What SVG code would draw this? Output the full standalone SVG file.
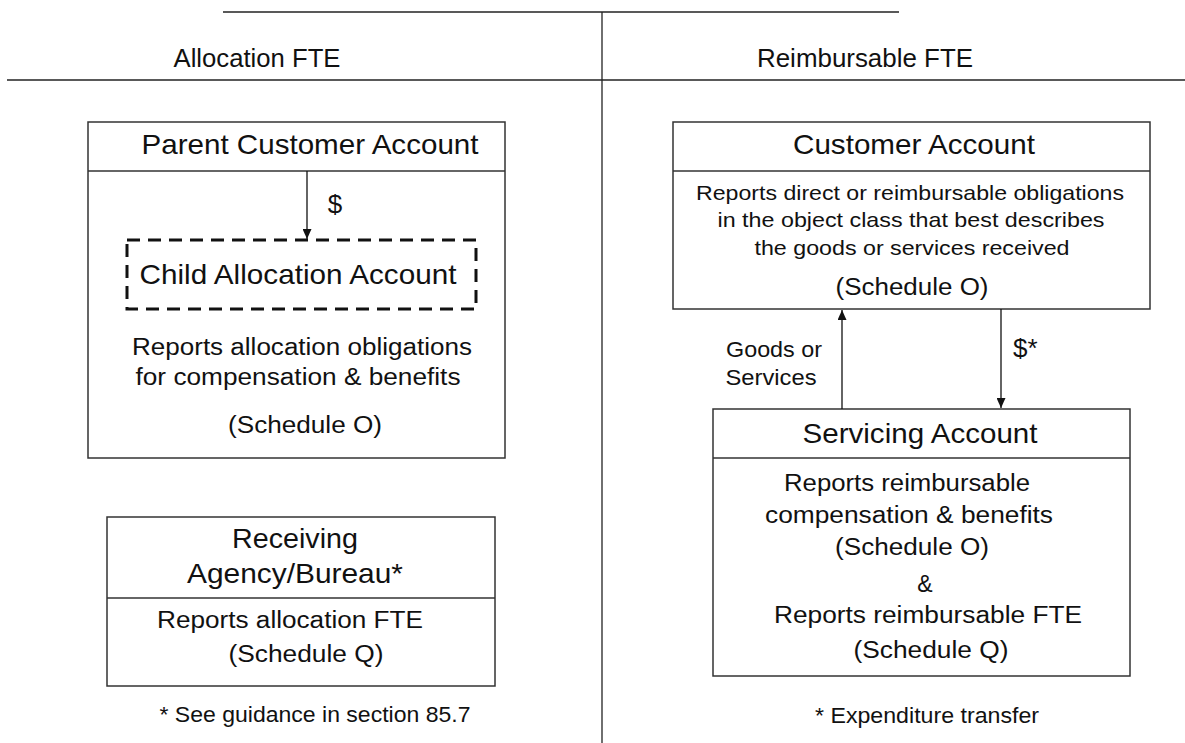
<svg xmlns="http://www.w3.org/2000/svg" width="1185" height="743" viewBox="0 0 1185 743">
<style>
text{font-family:"Liberation Sans",Arial,sans-serif;fill:#111;text-anchor:middle}
.t{font-size:26px}
.h{font-size:28px}
.b{font-size:23px}
.s{font-size:21px}
.f{font-size:22px}
.box{fill:#fff;stroke:#333;stroke-width:1.5}
.div{stroke:#333;stroke-width:1.5}
.rule{stroke:#222;stroke-width:1.3}
.conn{stroke:#111;stroke-width:1.3;fill:none;marker-end:url(#ah)}
.dash{fill:none;stroke:#111;stroke-width:3;stroke-dasharray:13 8}
</style>
<defs>
<marker id="ah" markerUnits="userSpaceOnUse" markerWidth="10" markerHeight="9" refX="10" refY="4.5" orient="auto">
<path d="M0,0 L10,4.5 L0,9 z" fill="#111"/>
</marker>
</defs>
<rect width="1185" height="743" fill="#fff"/>
<g id="frame">
<line class="rule" x1="223" y1="12" x2="899" y2="12"/>
<line class="rule" x1="602" y1="12" x2="602" y2="743"/>
<line class="rule" x1="7" y1="80" x2="1185" y2="80"/>
<text class="t" x="257" y="67" textLength="167" lengthAdjust="spacingAndGlyphs">Allocation FTE</text>
<text class="t" x="865" y="67" textLength="216" lengthAdjust="spacingAndGlyphs">Reimbursable FTE</text>
</g>
<g id="parent-customer-account">
<rect class="box" x="88" y="122" width="417" height="336"/>
<line class="div" x1="88" y1="171" x2="505" y2="171"/>
<text class="h" x="310" y="154" textLength="337" lengthAdjust="spacingAndGlyphs">Parent Customer Account</text>
<text class="b" x="302" y="355" textLength="340" lengthAdjust="spacingAndGlyphs">Reports allocation obligations</text>
<text class="b" x="298" y="385" textLength="325" lengthAdjust="spacingAndGlyphs">for compensation &amp; benefits</text>
<text class="b" x="305" y="433" textLength="154" lengthAdjust="spacingAndGlyphs">(Schedule O)</text>
</g>
<g id="child-allocation-account">
<rect class="dash" x="127" y="240" width="349" height="69"/>
<text class="h" x="298" y="284" textLength="317" lengthAdjust="spacingAndGlyphs">Child Allocation Account</text>
</g>
<g id="receiving-agency">
<rect class="box" x="107" y="517" width="388" height="169"/>
<line class="div" x1="107" y1="598" x2="495" y2="598"/>
<text class="h" x="295" y="548" textLength="126" lengthAdjust="spacingAndGlyphs">Receiving</text>
<text class="h" x="295" y="583" textLength="216" lengthAdjust="spacingAndGlyphs">Agency/Bureau*</text>
<text class="b" x="290" y="628" textLength="266" lengthAdjust="spacingAndGlyphs">Reports allocation FTE</text>
<text class="b" x="306" y="662" textLength="155" lengthAdjust="spacingAndGlyphs">(Schedule Q)</text>
</g>
<g id="customer-account">
<rect class="box" x="673" y="122" width="477" height="187"/>
<line class="div" x1="673" y1="171" x2="1150" y2="171"/>
<text class="h" x="914" y="154" textLength="242" lengthAdjust="spacingAndGlyphs">Customer Account</text>
<text class="s" x="910" y="200" textLength="428" lengthAdjust="spacingAndGlyphs">Reports direct or reimbursable obligations</text>
<text class="s" x="911" y="227" textLength="387" lengthAdjust="spacingAndGlyphs">in the object class that best describes</text>
<text class="s" x="912" y="255" textLength="315" lengthAdjust="spacingAndGlyphs">the goods or services received</text>
<text class="b" x="912" y="295" textLength="153" lengthAdjust="spacingAndGlyphs">(Schedule O)</text>
</g>
<g id="servicing-account">
<rect class="box" x="713" y="409" width="417" height="267"/>
<line class="div" x1="713" y1="458" x2="1130" y2="458"/>
<text class="h" x="920" y="443" textLength="235" lengthAdjust="spacingAndGlyphs">Servicing Account</text>
<text class="b" x="907" y="491" textLength="246" lengthAdjust="spacingAndGlyphs">Reports reimbursable</text>
<text class="b" x="909" y="523" textLength="288" lengthAdjust="spacingAndGlyphs">compensation &amp; benefits</text>
<text class="b" x="912" y="555" textLength="154" lengthAdjust="spacingAndGlyphs">(Schedule O)</text>
<text class="b" x="925" y="592">&amp;</text>
<text class="b" x="928" y="623" textLength="308" lengthAdjust="spacingAndGlyphs">Reports reimbursable FTE</text>
<text class="b" x="931" y="658" textLength="155" lengthAdjust="spacingAndGlyphs">(Schedule Q)</text>
</g>
<g id="connectors">
<line class="conn" x1="307" y1="171" x2="307" y2="239"/>
<line class="conn" x1="842" y1="409" x2="842" y2="310"/>
<line class="conn" x1="1001" y1="309" x2="1001" y2="408"/>
<text class="t" x="335" y="213">$</text>
<text class="f" x="774" y="357" textLength="96" lengthAdjust="spacingAndGlyphs">Goods or</text>
<text class="f" x="771" y="385" textLength="91" lengthAdjust="spacingAndGlyphs">Services</text>
<text class="t" x="1013" y="357" style="text-anchor:start">$*</text>
</g>
<g id="footnotes">
<text class="f" x="315" y="722" textLength="311" lengthAdjust="spacingAndGlyphs">* See guidance in section 85.7</text>
<text class="f" x="927" y="723" textLength="224" lengthAdjust="spacingAndGlyphs">* Expenditure transfer</text>
</g>
</svg>
